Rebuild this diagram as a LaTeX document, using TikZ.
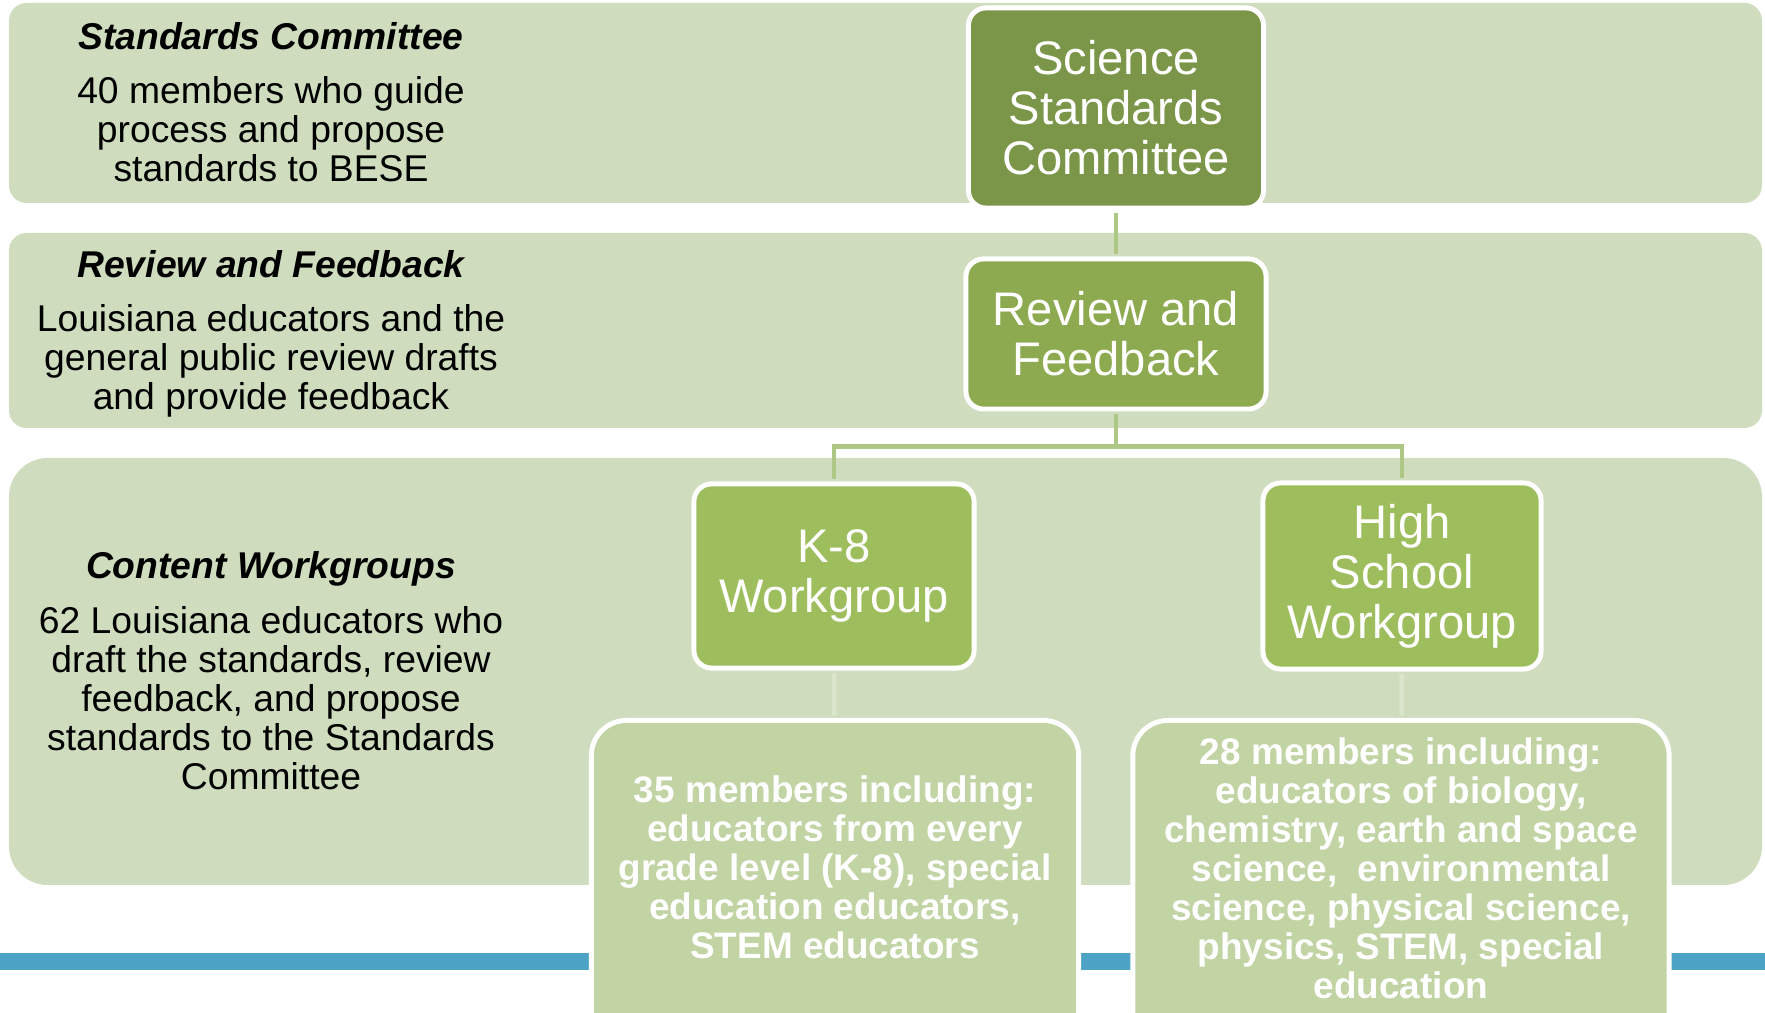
\documentclass[tikz,border=0pt]{standalone}
\usepackage{fontspec}
\setmainfont{Liberation Sans}
\usetikzlibrary{positioning}

\definecolor{bandgreen}{HTML}{CFDDBE}
\definecolor{darkolive}{HTML}{7B9648}
\definecolor{midolive}{HTML}{8DAA50}
\definecolor{leafgreen}{HTML}{9EBE5E}
\definecolor{palegreen}{HTML}{C2D3A4}
\definecolor{linkgreen}{HTML}{AEC784}
\definecolor{faintgreen}{HTML}{DAE5CB}
\definecolor{barblue}{HTML}{4CA3C6}

\begin{document}
\begin{tikzpicture}[x=0.01cm, y=-0.01cm,
  band/.style={fill=bandgreen, rounded corners=5pt},
  head/.style={font=\fontsize{10.6}{11.1}\selectfont\bfseries\itshape},
  desc/.style={align=center, font=\fontsize{10.6}{11.1}\selectfont},
  unit/.style={draw=white, line width=1.4pt, rounded corners=5pt, align=center,
               text=white, font=\fontsize{13.4}{14.2}\selectfont},
  infobox/.style={draw=white, line width=1.4pt, rounded corners=10pt, fill=palegreen,
                  minimum height=3.6cm, anchor=north},
  info/.style={align=center, text=white, font=\fontsize{10.5}{11.1}\selectfont\bfseries},
  link/.style={draw=linkgreen, line width=1.3pt, shorten <=0.7pt, shorten >=0.7pt},
  faint/.style={draw=faintgreen, line width=1.3pt, shorten <=0.7pt, shorten >=0.7pt}
]
\useasboundingbox (0,0) rectangle (1765,1013);
\clip (0,0) rectangle (1765,1013);
%% BANDS
\fill[band] (9,3) rectangle (1762,203);
\fill[band] (9,233) rectangle (1762,428);
\fill[band, rounded corners=11pt] (9,458) rectangle (1762,885);
\fill[barblue] (0,953) rectangle (1765,970);
%% CAPTIONS
\node[head] (schead) at (271,36)  {Standards Committee};
\node[desc] (scdesc) at (271,129) {40 members who guide\\process and propose\\standards to BESE};
\node[head] (rfhead) at (271,264) {Review and Feedback};
\node[desc] (rfdesc) at (271,361) {Louisiana educators and the\\general public review drafts\\and provide feedback};
\node[head] (cwhead) at (271,569) {Content Workgroups};
\node[desc] (cwdesc) at (271,698) {62 Louisiana educators who\\draft the standards, review\\feedback, and propose\\standards to the Standards\\Committee};
%% CHART
\node[unit, fill=darkolive, minimum width=2.95cm, minimum height=2cm]   (ssc) at (1116,108) {Science\\Standards\\Committee};
\node[unit, fill=midolive,  minimum width=3cm,    minimum height=1.5cm] (rf)  at (1116,334) {Review and\\Feedback};
\node[unit, fill=leafgreen, minimum width=2.8cm,  minimum height=1.84cm] (k8) at (834,576)  {K-8\\Workgroup};
\node[unit, fill=leafgreen, minimum width=2.78cm, minimum height=1.86cm] (hs) at (1402,576) {High\\School\\Workgroup};
\node[infobox, minimum width=4.87cm] (k8info) at (835,718)  {};
\node[infobox, minimum width=5.36cm] (hsinfo) at (1401,718) {};
\node[info] (k8note) at (835,867)  {35 members including:\\educators from every\\grade level (K-8), special\\education educators,\\STEM educators};
\node[info] (hsnote) at (1401,868) {28 members including:\\educators of biology,\\chemistry, earth and space\\science,\ \ environmental\\science, physical science,\\physics, STEM, special\\education};
%% LINKS
\draw[link] (ssc) -- (rf);
\draw[link] (rf.south) -- ++(0,35) coordinate (split) -| (k8.north);
\draw[link] (split) -| (hs.north);
\draw[faint] (k8) -- (k8info);
\draw[faint] (hs) -- (hsinfo);
\end{tikzpicture}
\end{document}
